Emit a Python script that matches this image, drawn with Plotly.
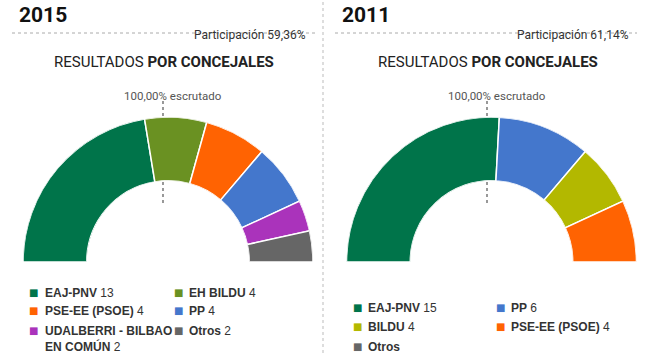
import plotly.graph_objects as go

W, H = 650, 353

# ---- data ----
parties_2015 = ["EAJ-PNV", "EH BILDU", "PSE-EE (PSOE)", "PP", "UDALBERRI - BILBAO EN COMÚN", "Otros"]
seats_2015 = [13, 4, 4, 4, 2, 2]
colors_2015 = ["#00744A", "#6A9122", "#FF6302", "#4477CC", "#AA33BB", "#666666"]

parties_2011 = ["EAJ-PNV", "PP", "BILDU", "PSE-EE (PSOE)", "Otros"]
seats_2011 = [15, 6, 4, 4, 0]
colors_2011 = ["#00744A", "#4477CC", "#B3B800", "#FF6302", "#666666"]

legend_2015 = ["<b>EAJ-PNV</b> 13", "<b>EH BILDU</b> 4", "<b>PSE-EE (PSOE)</b> 4", "<b>PP</b> 4",
               "<b>UDALBERRI - BILBAO<br>EN COMÚN</b> 2", "<b>Otros</b> 2"]
legend_2011 = ["<b>EAJ-PNV</b> 15", "<b>PP</b> 6", "<b>BILDU</b> 4", "<b>PSE-EE (PSOE)</b> 4", "<b>Otros</b>"]

years = ["2015", "2011"]
participation = ["Participación 59,36%", "Participación 61,14%"]
scrutiny = "100,00% escrutado"


def px(x):
    return x / W


def py(y):
    return 1 - y / H


fig = go.Figure()


def add_half_donut(seats, colors, names, polar):
    total = sum(seats)
    start = 0.0
    thetas, widths = [], []
    for s in seats:
        w = s / total * 180.0
        thetas.append(start + w / 2)
        widths.append(w)
        start += w
    for name, th, w, c, s in zip(names, thetas, widths, colors, seats):
        if s == 0:
            continue
        fig.add_trace(go.Barpolar(
            r=[1], theta=[th], width=[w], name=name,
            marker=dict(color=c, line=dict(color="white", width=1.5)),
            subplot=polar, showlegend=False, hoverinfo="name",
        ))


add_half_donut(seats_2015, colors_2015, parties_2015, "polar")
add_half_donut(seats_2011, colors_2011, parties_2011, "polar2")

polar_common = dict(
    sector=[0, 180], hole=0.56, bgcolor="rgba(0,0,0,0)",
    radialaxis=dict(visible=False, range=[0, 1]),
    angularaxis=dict(visible=False, direction="clockwise", rotation=180, thetaunit="degrees"),
)
fig.update_layout(
    polar=dict(domain=dict(x=[px(23), px(313)], y=[py(262), py(117)]), **polar_common),
    polar2=dict(domain=dict(x=[px(346), px(637)], y=[py(262), py(117)]), **polar_common),
)

shapes = []
annotations = []
FONT = "Roboto"

# vertical separator
shapes.append(dict(type="line", xref="paper", yref="paper", x0=px(323), x1=px(323), y0=0, y1=1,
                   line=dict(color="#BBBBBB", width=1, dash="dot")))

panels = [
    dict(x0=12, x1=315, center=163.5, tick=163, legend=legend_2015, colors=colors_2015,
         leg_rows=[292, 310, 330], leg_cols=[(33, 43), (178, 187)], year_x=17, part_x=308),
    dict(x0=335, x1=637, center=488, tick=487, legend=legend_2011, colors=colors_2011,
         leg_rows=[307, 326, 346], leg_cols=[(357, 366), (500, 509)], year_x=340, part_x=631),
]

for i, p in enumerate(panels):
    # year title
    annotations.append(dict(text=f"<b>{years[i]}</b>", x=px(p["year_x"]), y=py(15), xref="paper", yref="paper",
                            xanchor="left", yanchor="middle", showarrow=False,
                            font=dict(family=FONT, size=21, color="#111111")))
    # dotted rule
    shapes.append(dict(type="line", xref="paper", yref="paper", x0=px(p["x0"]), x1=px(p["x1"]),
                       y0=py(33), y1=py(33), line=dict(color="#AAAAAA", width=1, dash="dot")))
    annotations.append(dict(text=participation[i], x=px(p["part_x"]), y=py(35.5), xref="paper", yref="paper",
                            xanchor="right", yanchor="middle", showarrow=False,
                            font=dict(family=FONT, size=12, color="#333333")))
    # subtitle
    annotations.append(dict(text="RESULTADOS <b>POR CONCEJALES</b>", x=px(p["center"]), y=py(62),
                            xref="paper", yref="paper", xanchor="center", yanchor="middle", showarrow=False,
                            font=dict(family=FONT, size=15, color="#222222")))
    # scrutiny label
    annotations.append(dict(text=scrutiny, x=px(p["tick"] + 10), y=py(96), xref="paper", yref="paper",
                            xanchor="center", yanchor="middle", showarrow=False,
                            font=dict(family=FONT, size=11.5, color="#555555")))
    # dotted tick marks
    for ya, yb in [(101, 118), (182, 203)]:
        shapes.append(dict(type="line", xref="paper", yref="paper", x0=px(p["tick"]), x1=px(p["tick"]),
                           y0=py(ya), y1=py(yb), line=dict(color="#555555", width=1.2, dash="dot")))
    # legend
    for k, (lab, col) in enumerate(zip(p["legend"], p["colors"])):
        r, c = divmod(k, 2)
        yrow = p["leg_rows"][r]
        mx, tx = p["leg_cols"][c]
        annotations.append(dict(text="■", x=px(mx), y=py(yrow), xref="paper", yref="paper",
                                xanchor="center", yanchor="middle", showarrow=False,
                                font=dict(family="DejaVu Sans", size=10, color=col)))
        annotations.append(dict(text=lab, x=px(tx), y=py(yrow - 8), xref="paper", yref="paper",
                                xanchor="left", yanchor="top", align="left", showarrow=False,
                                font=dict(family="Liberation Sans", size=12, color="#333333")))

fig.update_layout(
    width=W, height=H, margin=dict(l=0, r=0, t=0, b=0),
    paper_bgcolor="white", plot_bgcolor="white",
    shapes=shapes, annotations=annotations, showlegend=False,
)

fig.write_html("out.html")
